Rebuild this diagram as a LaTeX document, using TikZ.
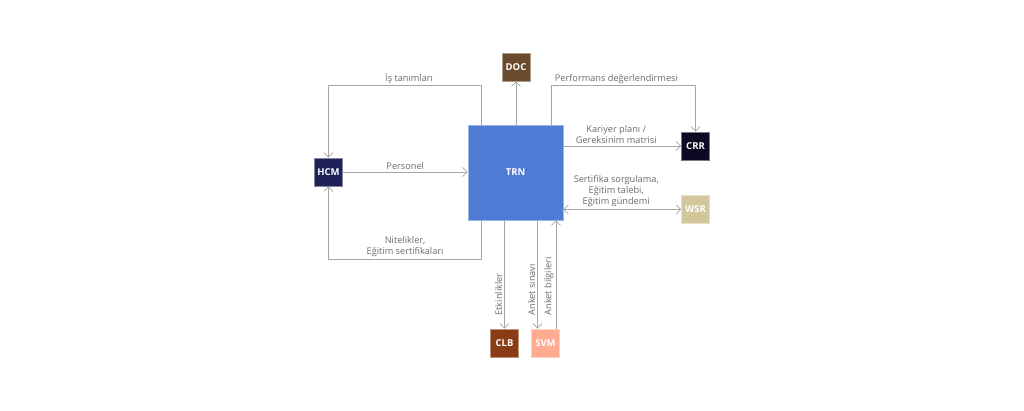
\documentclass[tikz,border=0pt]{standalone}
\usepackage{fontspec}
\setmainfont{Open Sans}
\usetikzlibrary{arrows.meta,positioning}

\definecolor{trnblue}{HTML}{4F7BD4}
\definecolor{docbrown}{HTML}{6A4B2E}
\definecolor{hcmnavy}{HTML}{1F2257}
\definecolor{crrdark}{HTML}{0B0A22}
\definecolor{wsrsand}{HTML}{D3C69B}
\definecolor{clbrust}{HTML}{8A3C17}
\definecolor{svmpeach}{HTML}{FFAB91}
\definecolor{linegray}{HTML}{A6A6A6}
\definecolor{textgray}{HTML}{6B6B6B}

\begin{document}
\begin{tikzpicture}[
    x=1pt, y=-1pt,
    blk/.style={rectangle, fill=#1, draw=#1!55!white, line width=0.6pt, minimum size=28pt, inner sep=0pt, text=white, font=\fontsize{9.5}{12}\selectfont\bfseries},
    arr/.style={-{Straight Barb[length=4.5pt, width=9pt]}, draw=linegray, line width=0.8pt},
    lbl/.style={font=\fontsize{9.2}{11.2}\selectfont, text=textgray, align=center, inner sep=2pt}
]
\useasboundingbox (0,0) rectangle (1024,410);

\node[blk=trnblue, minimum size=95pt] (trn) at (515.5, 172.5) {TRN};
\node[blk=docbrown] (doc) at (516, 67) {DOC};
\node[blk=hcmnavy] (hcm) at (328.5, 172) {HCM};
\node[blk=crrdark] (crr) at (695.5, 146) {CRR};
\node[blk=wsrsand] (wsr) at (695.5, 209.5) {WSR};
\node[blk=clbrust] (clb) at (504.5, 343) {CLB};
\node[blk=svmpeach] (svm) at (545.5, 343) {SVM};

% top side
\draw[arr] ([xshift=14pt]trn.north west) -- ++(0,-39) -| (hcm.north) node[pos=0.25, above, lbl, xshift=4pt] {İş tanımları};
\draw[arr] (trn.north -| doc.south) -- (doc.south);
\draw[arr] ([xshift=-12pt]trn.north east) -- ++(0,-39) -| (crr.north) node[pos=0.25, above, lbl, xshift=-7pt] {Performans değerlendirmesi};

% right side
\draw[arr] (crr.west -| trn.east) -- (crr.west) node[midway, above, lbl, xshift=-6pt] {Kariyer planı /\\Gereksinim matrisi};
\draw[arr, {Straight Barb[length=4.5pt, width=9pt]}-{Straight Barb[length=4.5pt, width=9pt]}] (wsr.west -| trn.east) -- (wsr.west) node[midway, above, lbl, xshift=-6pt] {Sertifika sorgulama,\\Eğitim talebi,\\Eğitim gündemi};

% left side
\draw[arr] (hcm.east) -- (hcm.east -| trn.west) node[midway, above, lbl] {Personel};
\draw[arr] ([xshift=14pt]trn.south west) -- ++(0,39) -| (hcm.south) node[pos=0.25, above, lbl] {Nitelikler,\\Eğitim sertifikaları};

% bottom side
\draw[arr] (clb.north |- trn.south) -- (clb.north) node[pos=0.9, rotate=90, anchor=south west, lbl] {Etkinlikler};
\draw[arr] ([xshift=-8pt]svm.north |- trn.south) -- ([xshift=-8pt]svm.north) node[pos=0.9, rotate=90, anchor=south west, lbl] {Anket sınavı};
\draw[arr] ([xshift=10.5pt]svm.north) -- ([xshift=10.5pt]svm.north |- trn.south) node[pos=0.1, rotate=90, anchor=south west, lbl] {Anket bilgileri};
\end{tikzpicture}
\end{document}
